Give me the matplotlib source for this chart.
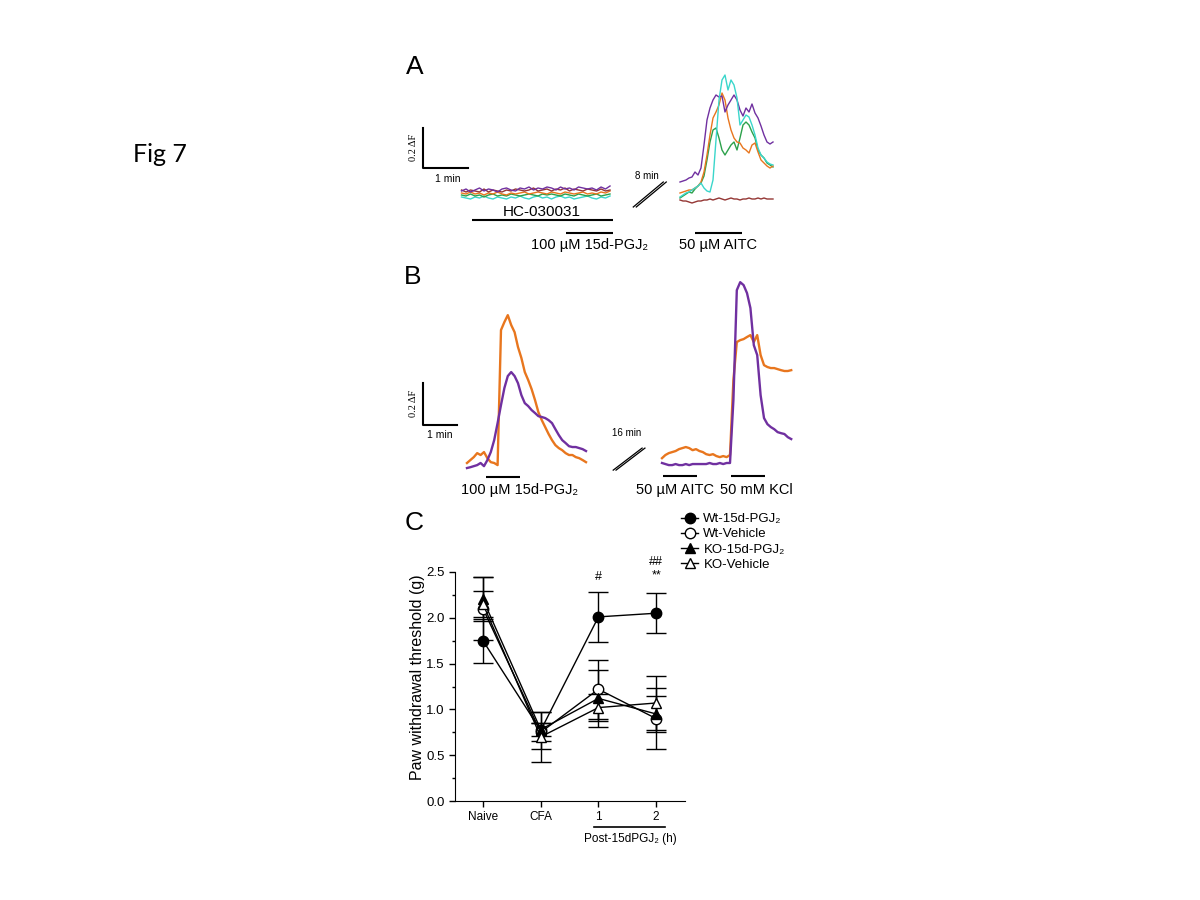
import numpy as np
import matplotlib.pyplot as plt
from matplotlib.lines import Line2D

SANS = ['Liberation Sans', 'DejaVu Sans']
plt.rcParams['font.family'] = SANS

PURPLE = '#7030A0'
ORANGE = '#E8761E'
BROWN = '#943634'
GREEN = '#2CA14B'
CYAN = '#3AD6CB'

# ---------------- panel A data (time in s, dF) ----------------
a_left_step = 6
a_left_purple = [0.045, 0.055, 0.04, 0.05, 0.06, 0.045, 0.055, 0.05, 0.04, 0.055, 0.06, 0.05, 0.045, 0.06, 0.055, 0.065, 0.05,
                 0.06, 0.055, 0.065, 0.06, 0.05, 0.065, 0.055, 0.06, 0.05, 0.065, 0.06, 0.055, 0.06, 0.05, 0.065, 0.055, 0.07]
a_left_brown = [0.05, 0.04, 0.05, 0.045, 0.04, 0.055, 0.04, 0.05, 0.045, 0.04, 0.05, 0.045, 0.055, 0.05, 0.045, 0.05, 0.06,
                0.045, 0.05, 0.055, 0.045, 0.055, 0.05, 0.06, 0.045, 0.055, 0.05, 0.045, 0.055, 0.05, 0.045, 0.055, 0.045, 0.05]
a_left_orange = [0.035, 0.03, 0.04, 0.03, 0.035, 0.025, 0.035, 0.03, 0.04, 0.03, 0.025, 0.035, 0.03, 0.035, 0.04, 0.03, 0.035,
                 0.04, 0.035, 0.03, 0.04, 0.035, 0.03, 0.04, 0.035, 0.03, 0.035, 0.04, 0.03, 0.035, 0.03, 0.04, 0.035, 0.045]
a_left_green = [0.025, 0.02, 0.03, 0.02, 0.025, 0.015, 0.025, 0.03, 0.02, 0.025, 0.02, 0.03, 0.025, 0.02, 0.025, 0.03, 0.025,
                0.02, 0.03, 0.025, 0.03, 0.025, 0.02, 0.03, 0.025, 0.02, 0.03, 0.025, 0.02, 0.025, 0.03, 0.02, 0.025, 0.03]
a_left_cyan = [0.015, 0.01, 0.005, 0.015, 0.01, 0.02, 0.01, 0.005, 0.015, 0.01, 0.005, 0.015, 0.01, 0.02, 0.01, 0.005, 0.015,
               0.02, 0.01, 0.015, 0.005, 0.015, 0.02, 0.01, 0.015, 0.005, 0.01, 0.015, 0.02, 0.01, 0.005, 0.015, 0.01, 0.02]

a_right_step = 4
a_right_purple = [0.09, 0.095, 0.10, 0.11, 0.115, 0.14, 0.125, 0.16, 0.275, 0.40, 0.46, 0.50, 0.525, 0.515, 0.52, 0.44,
                  0.475, 0.50, 0.525, 0.50, 0.45, 0.42, 0.46, 0.44, 0.48, 0.435, 0.41, 0.37, 0.325, 0.29, 0.28, 0.29]
a_right_cyan = [0.015, 0.025, 0.035, 0.04, 0.05, 0.06, 0.07, 0.085, 0.06, 0.045, 0.04, 0.10, 0.30, 0.50, 0.60, 0.625,
                0.55, 0.60, 0.575, 0.51, 0.375, 0.40, 0.425, 0.415, 0.375, 0.325, 0.26, 0.225, 0.21, 0.19, 0.18, 0.175]
a_right_orange = [0.035, 0.04, 0.045, 0.05, 0.05, 0.06, 0.07, 0.09, 0.14, 0.225, 0.325, 0.41, 0.44, 0.475, 0.535, 0.50,
                  0.41, 0.35, 0.31, 0.29, 0.285, 0.26, 0.25, 0.235, 0.275, 0.285, 0.24, 0.20, 0.185, 0.17, 0.16, 0.17]
a_right_green = [0.01, 0.02, 0.03, 0.04, 0.035, 0.055, 0.07, 0.085, 0.12, 0.20, 0.29, 0.35, 0.36, 0.31, 0.25, 0.225,
                 0.25, 0.275, 0.29, 0.25, 0.31, 0.375, 0.39, 0.375, 0.34, 0.31, 0.25, 0.225, 0.21, 0.185, 0.175, 0.165]
a_right_brown = [0.0, -0.005, -0.005, -0.01, -0.015, -0.01, -0.005, -0.005, 0.0, 0.0, 0.005, 0.0, 0.005, 0.01, 0.005, 0.0,
                 0.005, 0.01, 0.005, 0.005, 0.0, 0.005, 0.005, 0.01, 0.005, 0.005, 0.01, 0.005, 0.01, 0.005, 0.005, 0.005]

# ---------------- panel B data ----------------
b_step = 6
b_left_orange = [0.01, 0.024, 0.038, 0.057, 0.048, 0.062, 0.033, 0.014, 0.01, 0.0, 0.643, 0.681, 0.714, 0.667, 0.633, 0.562,
                 0.51, 0.443, 0.405, 0.362, 0.31, 0.252, 0.214, 0.181, 0.148, 0.119, 0.095, 0.081, 0.071, 0.057, 0.048,
                 0.048, 0.038, 0.033, 0.024, 0.014]
b_left_purple = [-0.014, -0.01, -0.005, 0.0, 0.01, -0.005, 0.024, 0.062, 0.119, 0.2, 0.286, 0.367, 0.424, 0.443, 0.424,
                 0.39, 0.333, 0.295, 0.281, 0.262, 0.248, 0.233, 0.229, 0.224, 0.214, 0.2, 0.171, 0.143, 0.119, 0.105,
                 0.09, 0.086, 0.086, 0.081, 0.076, 0.067]
b_right_orange = [0.033, 0.048, 0.057, 0.062, 0.067, 0.076, 0.081, 0.086, 0.081, 0.071, 0.076, 0.067, 0.062, 0.052, 0.048,
                  0.052, 0.043, 0.038, 0.043, 0.038, 0.048, 0.405, 0.586, 0.595, 0.6, 0.61, 0.619, 0.586, 0.619, 0.524,
                  0.476, 0.467, 0.462, 0.462, 0.457, 0.452, 0.448, 0.448, 0.452]
b_right_purple = [0.01, 0.005, 0.0, 0.0, 0.005, 0.0, 0.0, 0.005, 0.0, 0.005, 0.005, 0.005, 0.005, 0.005, 0.01, 0.005, 0.005,
                  0.01, 0.005, 0.01, 0.01, 0.31, 0.833, 0.871, 0.857, 0.819, 0.748, 0.571, 0.524, 0.333, 0.224, 0.195,
                  0.181, 0.171, 0.157, 0.152, 0.148, 0.133, 0.124]

# ---------------- panel C data ----------------
c_groups = ['Naive', 'CFA', '1', '2']
wt_pgj = [1.75, 0.77, 2.01, 2.05]
wt_pgj_se = [0.24, 0.20, 0.27, 0.22]
wt_veh = [2.10, 0.75, 1.22, 0.90]
wt_veh_se = [0.34, 0.10, 0.32, 0.33]
ko_pgj = [2.20, 0.78, 1.12, 0.95]
ko_pgj_se = [0.24, 0.07, 0.31, 0.20]
ko_veh = [2.15, 0.70, 1.02, 1.07]
ko_veh_se = [0.14, 0.27, 0.15, 0.29]


def px(x):
    return x / 1200


def py(y):
    return 1 - y / 900


def hbar(ax, t0, t1, y, lw=1.5):
    ax.plot([t0, t1], [y, y], color='black', lw=lw, solid_capstyle='butt', clip_on=False)


def scalebar(ax, t0, y0, tlen, ylen):
    ax.plot([t0, t0, t0 + tlen], [y0 + ylen, y0, y0], color='black', lw=1.5, clip_on=False)


def slash(ax, t0, y0, t1, y1, dt):
    ax.plot([t0, t1], [y0, y1], color='black', lw=0.9)
    ax.plot([t0 + dt, t1 + dt], [y0, y1], color='black', lw=0.9)


fig = plt.figure(figsize=(12, 9), dpi=100)
fig.text(px(160), py(155), 'Fig 7', family=['Lato', 'DejaVu Sans'], fontsize=18, ha='center', va='center')
fig.text(px(415), py(67), 'A', fontsize=19, ha='center', va='center')
fig.text(px(413), py(277), 'B', fontsize=19, ha='center', va='center')
fig.text(px(414), py(523), 'C', fontsize=19, ha='center', va='center')

# ---------------- A ----------------
axA = fig.add_axes([px(400), py(265), px(400), 205 / 900])
axA.set_xlim(-80, 453.3)
axA.set_ylim(-0.325, 0.70)
axA.axis('off')
tl = np.arange(len(a_left_purple)) * a_left_step + 2
for vals, c in [(a_left_cyan, CYAN), (a_left_green, GREEN), (a_left_orange, ORANGE),
                (a_left_brown, BROWN), (a_left_purple, PURPLE)]:
    axA.plot(tl, vals, color=c, lw=1.0)
a_off = 293.3
tr = np.arange(len(a_right_purple)) * a_right_step + a_off
for vals, c in [(a_right_brown, BROWN), (a_right_green, GREEN), (a_right_orange, ORANGE),
                (a_right_purple, PURPLE), (a_right_cyan, CYAN)]:
    axA.plot(tr, vals, color=c, lw=1.0)

scalebar(axA, -50, 0.16, 60, 0.2)
axA.text(-16, 0.105, '1 min', fontsize=7.5, ha='center', va='center')
axA.text(-62, 0.265, '0.2 ΔF', family=['Liberation Serif', 'DejaVu Serif'], fontsize=7.5,
         rotation=90, ha='center', va='center')
hbar(axA, 16, 204, -0.10)
axA.text(109, -0.058, 'HC-030031', fontsize=11, ha='center', va='center')
hbar(axA, 141, 204, -0.165)
axA.text(173, -0.225, '100 µM 15d-PGJ₂', fontsize=10.5, ha='center', va='center')
hbar(axA, a_off + 20, a_off + 83, -0.165)
axA.text(a_off + 51, -0.225, '50 µM AITC', fontsize=10.5, ha='center', va='center')
slash(axA, 231, -0.035, 271, 0.09, 4)
axA.text(249, 0.12, '8 min', fontsize=7, ha='center', va='center')

# ---------------- B ----------------
axB = fig.add_axes([px(400), py(505), px(400), 235 / 900])
axB.set_xlim(-118.2, 587.6)
axB.set_ylim(-0.19, 0.929)
axB.axis('off')
tbl = np.arange(len(b_left_orange)) * b_step
axB.plot(tbl, b_left_orange, color=ORANGE, lw=1.7)
axB.plot(tbl, b_left_purple, color=PURPLE, lw=1.7)
b_off = 344.1
tbr = np.arange(len(b_right_orange)) * b_step + b_off
axB.plot(tbr, b_right_orange, color=ORANGE, lw=1.7)
axB.plot(tbr, b_right_purple, color=PURPLE, lw=1.7)

scalebar(axB, -78, 0.19, 60, 0.2)
axB.text(-48, 0.143, '1 min', fontsize=7.5, ha='center', va='center')
axB.text(-95, 0.295, '0.2 ΔF', family=['Liberation Serif', 'DejaVu Serif'], fontsize=7.5,
         rotation=90, ha='center', va='center')
hbar(axB, 33, 93, -0.057)
axB.text(93.5, -0.12, '100 µM 15d-PGJ₂', fontsize=10.5, ha='center', va='center')
hbar(axB, b_off + 2, b_off + 62, -0.052)
axB.text(b_off + 23, -0.12, '50 µM AITC', fontsize=10.5, ha='center', va='center')
hbar(axB, b_off + 122, b_off + 182, -0.052)
axB.text(b_off + 166, -0.12, '50 mM KCl', fontsize=10.5, ha='center', va='center')
slash(axB, 258, -0.024, 309, 0.081, 5)
axB.text(282, 0.152, '16 min', fontsize=7, ha='center', va='center')

# ---------------- C ----------------
axC = fig.add_axes([px(455), py(801), 230 / 1200, 229 / 900])
xs = np.arange(len(c_groups))
series = [('Wt-15d-PGJ₂', wt_pgj, wt_pgj_se, 'o', 'black'),
          ('Wt-Vehicle', wt_veh, wt_veh_se, 'o', 'white'),
          ('KO-15d-PGJ₂', ko_pgj, ko_pgj_se, '^', 'black'),
          ('KO-Vehicle', ko_veh, ko_veh_se, '^', 'white')]
handles = []
for name, m, se, mk, fc in series:
    axC.errorbar(xs, m, yerr=se, marker=mk, mfc=fc, mec='black', color='black', lw=1, ms=7.5,
                 capsize=7, elinewidth=1, capthick=1, clip_on=False)
    handles.append(Line2D([], [], marker=mk, mfc=fc, mec='black', color='black', lw=1, ms=7.5, label=name))
axC.set_xlim(-0.485, 3.5)
axC.set_ylim(0, 2.5)
axC.set_yticks([0, 0.5, 1.0, 1.5, 2.0, 2.5])
axC.set_yticklabels(['0.0', '0.5', '1.0', '1.5', '2.0', '2.5'], fontsize=9.5)
axC.set_yticks(np.arange(0.25, 2.5, 0.5), minor=True)
axC.set_xticks(xs)
axC.set_xticklabels(c_groups, fontsize=8.5)
axC.tick_params(direction='out', length=4, width=1)
axC.tick_params(which='minor', direction='out', length=2, width=1)
axC.spines['top'].set_visible(False)
axC.spines['right'].set_visible(False)
axC.set_ylabel('Paw withdrawal threshold (g)', fontsize=11.5)
axC.yaxis.set_label_coords(-0.13, 0.54)
axC.text(2, 2.45, '#', fontsize=9, ha='center', va='center')
axC.text(3, 2.61, '##', fontsize=9, ha='center', va='center', clip_on=False)
axC.text(3, 2.46, '**', fontsize=9, ha='center', va='center', clip_on=False)
tr_c = axC.get_xaxis_transform()
axC.plot([1.92, 3.16], [-0.1135, -0.1135], color='black', lw=1.2, transform=tr_c, clip_on=False)
axC.text(2.55, -0.165, 'Post-15dPGJ₂ (h)', fontsize=8.5, ha='center', va='center', transform=tr_c)

fig.legend(handles=handles, loc='upper left', bbox_to_anchor=(px(681), py(513)), frameon=False,
           fontsize=9.5, handlelength=1.3, handletextpad=0.4, labelspacing=0.22, borderaxespad=0,
           borderpad=0)

fig.savefig('out.png', dpi=100)
